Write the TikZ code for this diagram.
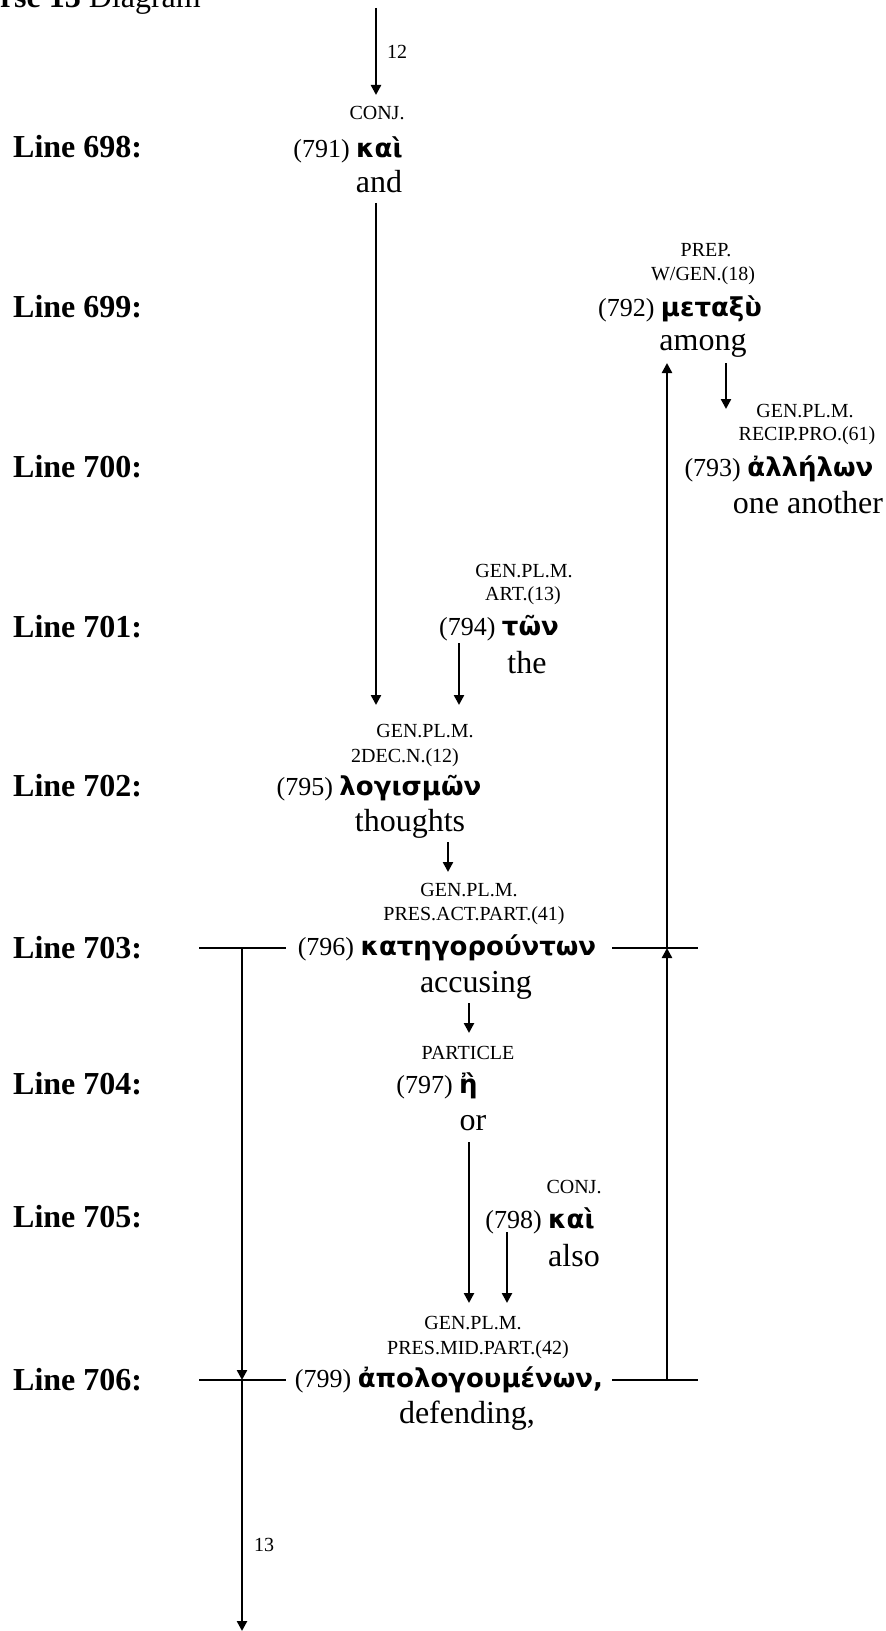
\documentclass[tikz,border=0pt]{standalone}
\usepackage{fontspec}
\setmainfont{Liberation Serif}
\newfontfamily\grkfont{DejaVu Sans}
\usetikzlibrary{arrows.meta}
\tikzstyle{tagtext} = [font=\fontsize{10}{12}\selectfont]
\tikzstyle{wordtext} = [font=\fontsize{13}{15}\selectfont]
\tikzstyle{glosstext} = [font=\fontsize{16}{18}\selectfont]
\tikzstyle{linetag} = [font=\bfseries\fontsize{16}{18}\selectfont, anchor=west]
\tikzstyle{arr} = [-{Triangle[length=5pt,width=5pt]}]
\newcommand{\grkw}[1]{{\grkfont\bfseries\fontsize{13}{15}\selectfont #1}}

\begin{document}
\begin{tikzpicture}[x=0.5pt, y=-0.5pt, inner sep=0pt, line width=1.2pt]
\useasboundingbox (0,0) rectangle (886,1631);

\node[anchor=base east, font=\fontsize{16}{18}\selectfont] (title) at (202,8) {\textbf{Verse 13} Diagram};

\node[linetag] (l698) at (12,147) {Line 698:};
\node[linetag] (l699) at (12,307) {Line 699:};
\node[linetag] (l700) at (12,467) {Line 700:};
\node[linetag] (l701) at (12,627) {Line 701:};
\node[linetag] (l702) at (12,786) {Line 702:};
\node[linetag] (l703) at (12,948) {Line 703:};
\node[linetag] (l704) at (12,1084) {Line 704:};
\node[linetag] (l705) at (12,1217) {Line 705:};
\node[linetag] (l706) at (12,1380) {Line 706:};

% 791
\node[tagtext] (t791) at (377,113) {CONJ.};
\node[wordtext] (w791) at (348,150) {(791) \grkw{καὶ}};
\node[glosstext] (g791) at (379,182) {and};

% 792
\node[tagtext] (t792a) at (706,250) {PREP.};
\node[tagtext] (t792b) at (703,276) {W/GEN.(18)};
\node[wordtext] (w792) at (680,309) {(792) \grkw{μεταξὺ}};
\node[glosstext] (g792) at (703,346) {among};

% 793
\node[tagtext] (t793a) at (805,411) {GEN.PL.M.};
\node[tagtext] (t793b) at (807,436) {RECIP.PRO.(61)};
\node[wordtext] (w793) at (779,469) {(793) \grkw{ἀλλήλων}};
\node[glosstext] (g793) at (808,503) {one another};

% 794
\node[tagtext] (t794a) at (524,571) {GEN.PL.M.};
\node[tagtext] (t794b) at (523,596) {ART.(13)};
\node[wordtext] (w794) at (499,628) {(794) \grkw{τῶν}};
\node[glosstext] (g794) at (527,663) {the};

% 795
\node[tagtext] (t795a) at (425,731) {GEN.PL.M.};
\node[tagtext] (t795b) at (405,758) {2DEC.N.(12)};
\node[wordtext] (w795) at (379,788) {(795) \grkw{λογισμῶν}};
\node[glosstext] (g795) at (410,824) {thoughts};

% 796
\node[tagtext] (t796a) at (469,890) {GEN.PL.M.};
\node[tagtext] (t796b) at (474,916) {PRES.ACT.PART.(41)};
\node[wordtext] (w796) at (447,948) {(796) \grkw{κατηγορούντων}};
\node[glosstext] (g796) at (476,985) {accusing};

% 797
\node[tagtext] (t797) at (468,1053) {PARTICLE};
\node[wordtext] (w797) at (437,1086) {(797) \grkw{ἢ}};
\node[glosstext] (g797) at (473,1123) {or};

% 798
\node[tagtext] (t798) at (574,1187) {CONJ.};
\node[wordtext] (w798) at (540,1221) {(798) \grkw{καὶ}};
\node[glosstext] (g798) at (574,1256) {also};

% 799
\node[tagtext] (t799a) at (473,1323) {GEN.PL.M.};
\node[tagtext] (t799b) at (478,1350) {PRES.MID.PART.(42)};
\node[wordtext] (w799) at (449,1380) {(799) \grkw{ἀπολογουμένων,}};
\node[glosstext] (g799) at (467,1416) {defending,};

% arrow ends
\coordinate (a12s) at (376,8);
\coordinate (a791n) at (376,95);
\coordinate (a791s) at (376,203);
\coordinate (a795n) at (376,705);
\coordinate (a792s) at (726,363);
\coordinate (a793n) at (726,409);
\coordinate (a794s) at (459,643);
\coordinate (a795m) at (459,705);
\coordinate (a795s) at (448,842);
\coordinate (a796n) at (448,872);
\coordinate (a796s) at (469,1003);
\coordinate (a797n) at (469,1033);
\coordinate (a797s) at (469,1142);
\coordinate (a799n) at (469,1303);
\coordinate (a798s) at (507,1232);
\coordinate (a799m) at (507,1303);

\draw[arr] (a12s) -- (a791n) node[tagtext, anchor=west, pos=0.5, xshift=5pt] (n12) {12};
\draw[arr] (a791s) -- (a795n);
\draw[arr] (a792s) -- (a793n);
\draw[arr] (a794s) -- (a795m);
\draw[arr] (a795s) -- (a796n);
\draw[arr] (a796s) -- (a797n);
\draw[arr] (a797s) -- (a799n);
\draw[arr] (a798s) -- (a799m);

% bars on lines 703 and 706
\coordinate (h703a) at (199,948);
\coordinate (h703b) at (286,948);
\coordinate (h703c) at (612,948);
\coordinate (h703d) at (698,948);
\coordinate (h706a) at (199,1380);
\coordinate (h706b) at (286,1380);
\coordinate (h706c) at (612,1380);
\coordinate (h706d) at (698,1380);
\draw (h703a) -- (h703b);
\draw (h703c) -- (h703d);
\draw (h706a) -- (h706b);
\draw (h706c) -- (h706d);

% right: 799 back up to 792
\coordinate (r703) at (667,948);
\coordinate (r706) at (667,1380);
\coordinate (r792) at (667,363);
\draw[arr] (r706) -- (r703);
\draw[arr] (r703) -- (r792);

% left: 796 down to 13
\coordinate (k703) at (242,948);
\coordinate (k706) at (242,1380);
\coordinate (k13) at (242,1631);
\draw[arr] (k703) -- (k706);
\draw[arr] (k706) -- (k13);
\node[tagtext, anchor=west] (n13) at (253,1545) {13};

\end{tikzpicture}
\end{document}
